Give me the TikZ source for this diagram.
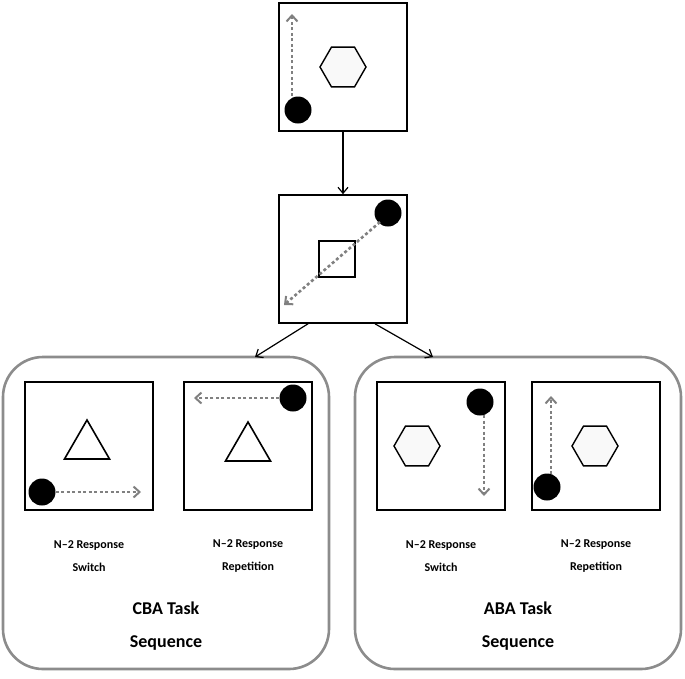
\documentclass[tikz,border=0pt]{standalone}
\usepackage{fontspec}
\setmainfont{Carlito}
\usetikzlibrary{arrows.meta,shapes.geometric}
\tikzset{
  panel/.style={draw,line width=1.6pt,minimum size=128pt,inner sep=0pt},
  group/.style={draw=gray!90,line width=2.6pt,rounded corners=40pt,minimum width=326pt,minimum height=312pt,inner sep=0pt},
  dot/.style={circle,fill=black,minimum size=27pt,inner sep=0pt},
  hexa/.style={regular polygon,regular polygon sides=6,draw,line width=1.4pt,fill=gray!5,minimum size=46pt,inner sep=0pt},
  tri/.style={regular polygon,regular polygon sides=3,draw,line width=1.6pt,minimum size=52pt,inner sep=0pt},
  move/.style={draw=gray,line width=2.6pt,dash pattern=on 3pt off 2.5pt,-{Straight Barb[length=6pt,width=11pt,line width=2pt]}},
  link/.style={line width=1.2pt,-{Straight Barb[length=6pt,width=10pt]}},
  lab/.style={font=\bfseries\fontsize{12}{23}\selectfont,align=center},
  title/.style={font=\bfseries\fontsize{18}{33}\selectfont,align=center}
}
\begin{document}
\begin{tikzpicture}[x=1pt,y=-1pt]
\useasboundingbox (0,0) rectangle (685,678);
% top and middle trials
\node[panel] (top) at (343,67) {};
\node[hexa] (tophex) at (343,67) {};
\node[dot] (topdot) at (298,110) {};
\coordinate (topend) at (292,14);
\draw[move] (topdot.center) ++(-6,-14) -- (topend);
\node[panel] (mid) at (343,259) {};
\node[draw,line width=1.4pt,minimum size=36pt,inner sep=0pt] (midsq) at (337,259) {};
\node[dot] (middot) at (388,213) {};
\coordinate (midend) at (284,305);
\draw[move] (middot.center) ++(-8,9) -- (midend);
\draw[link] (top.south) -- (mid.north);
% groups
\node[group] (cba) at (166,513) {};
\node[group] (aba) at (518,513) {};
\coordinate (cbatop) at (255,357);
\coordinate (abatop) at (433,357);
\draw[link] (mid.south) ++(-35,0) -- (cbatop);
\draw[link] (mid.south) ++(32,0) -- (abatop);
% CBA panels
\node[panel] (c1) at (89,446) {};
\node[tri] at (87,446) {};
\node[dot] (c1dot) at (42,492) {};
\coordinate (c1end) at (141,492);
\draw[move] (c1dot.east) -- (c1end);
\node[panel] (c2) at (248,446) {};
\node[tri] at (248,448) {};
\node[dot] (c2dot) at (293,398) {};
\coordinate (c2end) at (194,398);
\draw[move] (c2dot.west) -- (c2end);
% ABA panels
\node[panel] (a1) at (441,446) {};
\node[hexa] at (417,446) {};
\node[dot] (a1dot) at (480,402) {};
\coordinate (a1end) at (484,496);
\draw[move] (a1dot.center) ++(4,13) -- (a1end);
\node[panel] (a2) at (596,446) {};
\node[hexa] at (595,446) {};
\node[dot] (a2dot) at (547,487) {};
\coordinate (a2end) at (551,396);
\draw[move] (a2dot.center) ++(4,-13) -- (a2end);
% labels
\node[lab] at (89,556) {N–2 Response\\Switch};
\node[lab] at (248,556) {N–2 Response\\Repetition};
\node[lab] at (441,556) {N–2 Response\\Switch};
\node[lab] at (596,556) {N–2 Response\\Repetition};
\node[title] at (166,626) {CBA Task\\Sequence};
\node[title] at (518,626) {ABA Task\\Sequence};
\end{tikzpicture}
\end{document}
